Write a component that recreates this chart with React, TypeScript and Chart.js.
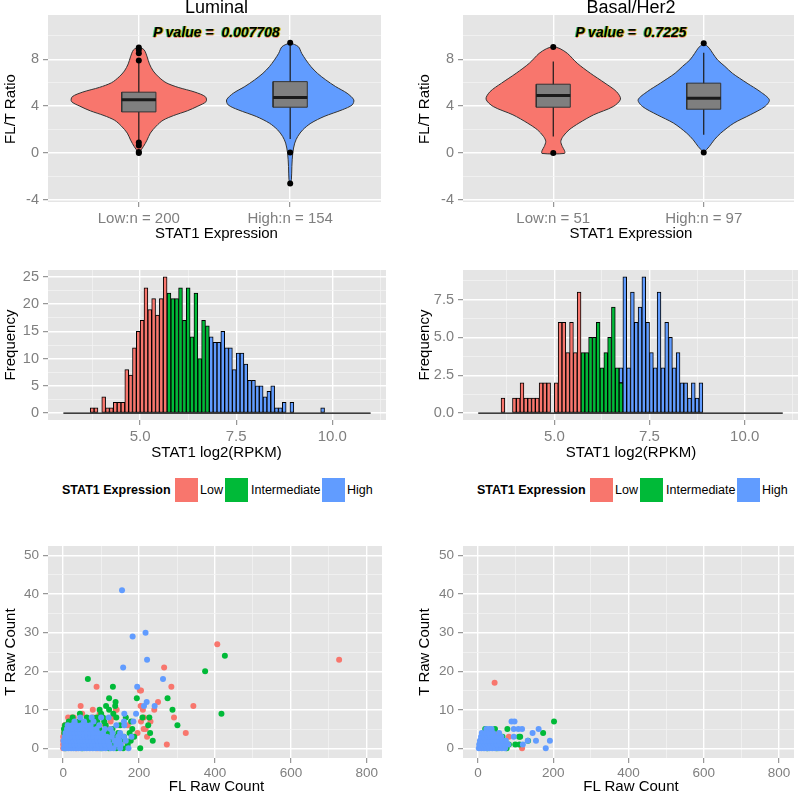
import React, { useEffect, useRef } from 'react';
import { Chart, registerables } from 'chart.js';

Chart.register(...registerables);

const FONT = "'Liberation Sans', Arial, Helvetica, sans-serif";
Chart.defaults.font.family = FONT;

const RED = '#F8766D';
const GREEN = '#00BA38';
const BLUE = '#619CFF';
const PANEL_BG = '#E5E5E5';
const TICK_GREY = '#7F7F7F';

// ---------------- Violin panels ----------------
const violinCats = [1, 2];
const lumCatLabels = ['Low:n = 200', 'High:n = 154'];
const basCatLabels = ['Low:n = 51', 'High:n = 97'];
const violinYMajor = [-4, 0, 4, 8];
const violinYMinor = [-2, 2, 6, 10];
const violinYLabels = ['-4', '0', '4', '8'];

// density profiles: value (y) and half width (x units)
const lumLowY = [9.05, 8.8, 8.2, 7.6, 7.0, 6.5, 6.0, 5.6, 5.2, 4.8, 4.4, 4.0, 3.6, 3.2, 2.8, 2.3, 1.7, 1.1, 0.55, 0.0];
const lumLowW = [0.0, 0.035, 0.055, 0.07, 0.095, 0.13, 0.18, 0.26, 0.37, 0.44, 0.445, 0.39, 0.32, 0.23, 0.16, 0.115, 0.076, 0.054, 0.03, 0.0];
const lumHighY = [9.41, 9.07, 8.5, 7.94, 7.37, 6.8, 6.24, 5.67, 5.1, 4.54, 4.11, 3.69, 3.12, 2.55, 1.98, 1.42, 0.85, 0.0, -1.14, -2.27, -2.6];
const lumHighW = [0.0, 0.054, 0.076, 0.104, 0.137, 0.18, 0.235, 0.3, 0.376, 0.42, 0.41, 0.344, 0.224, 0.137, 0.083, 0.05, 0.03, 0.017, 0.011, 0.008, 0.0];
const basLowY = [9.1, 8.9, 8.5, 7.66, 6.81, 5.96, 5.24, 4.6, 3.97, 3.26, 2.55, 1.98, 1.42, 1.0, 0.56, 0.2, -0.03];
const basLowW = [0.0, 0.045, 0.094, 0.159, 0.246, 0.344, 0.42, 0.447, 0.399, 0.268, 0.17, 0.105, 0.065, 0.05, 0.06, 0.075, 0.075];
const basHighY = [9.41, 8.94, 8.5, 7.94, 7.4, 6.81, 5.96, 5.24, 4.54, 3.97, 3.26, 2.55, 1.7, 1.13, 0.56, 0.05];
const basHighW = [0.0, 0.037, 0.06, 0.092, 0.14, 0.19, 0.288, 0.375, 0.436, 0.407, 0.309, 0.2, 0.113, 0.07, 0.037, 0.0];

// box stats: [whisker low, Q1, median, Q3, whisker high]
const lumLowBox = [1.1, 3.51, 4.54, 5.19, 7.75];
const lumHighBox = [1.2, 3.91, 4.73, 6.09, 9.2];
const basLowBox = [1.41, 3.91, 4.9, 5.87, 7.8];
const basHighBox = [1.56, 3.74, 4.68, 5.96, 8.56];
const lumLowOut = [9.0, 8.8, 8.5, 7.9, 0.9, 0.65, 0.1, 0.0];
const lumHighOut = [9.4, 0.05, -2.6];
const basLowOut = [9.05, 0.0];
const basHighOut = [9.36, 0.05];

// ---------------- Histograms ----------------
const histXMajor = [5, 7.5, 10];
const histXMinor = [3.75, 6.25, 8.75, 11.25];
const histXLabels = ['5.0', '7.5', '10.0'];
const lumHistYMajor = [0, 5, 10, 15, 20, 25];
const lumHistYMinor = [2.5, 7.5, 12.5, 17.5, 22.5];
const lumHistYLabels = ['0', '5', '10', '15', '20', '25'];
const basHistYMajor = [0, 2.5, 5, 7.5];
const basHistYMinor = [1.25, 3.75, 6.25, 8.75];
const basHistYLabels = ['0.0', '2.5', '5.0', '7.5'];
const histRange = [3.0, 11.0];
const binWidth = 0.1;

const lumBins = [3.7, 3.8, 3.9, 4.0, 4.1, 4.2, 4.3, 4.4, 4.5, 4.6,
  4.7, 4.8, 4.9, 5.0, 5.1, 5.2, 5.3, 5.4, 5.5, 5.6,
  5.7, 5.8, 5.9, 6.0, 6.1, 6.2, 6.3, 6.4, 6.5, 6.6,
  6.7, 6.8, 6.9, 7.0, 7.1, 7.2, 7.3, 7.4, 7.5, 7.6,
  7.7, 7.8, 7.9, 8.0, 8.1, 8.2, 8.3, 8.4, 8.5, 8.6,
  8.7, 8.8, 8.9, 9.0, 9.1, 9.2, 9.3, 9.4, 9.5, 9.6,
  9.7];
const lumLow = [1, 1, 0, 3, 1, 1, 2, 2, 2, 8,
  7, 12, 15, 17, 23, 19, 21, 18, 21, 25,
  0, 0, 0, 0, 0, 0, 0, 0, 0, 0,
  0, 0, 0, 0, 0, 0, 0, 0, 0, 0,
  0, 0, 0, 0, 0, 0, 0, 0, 0, 0,
  0, 0, 0, 0, 0, 0, 0, 0, 0, 0,
  0];
const lumInt = [0, 0, 0, 0, 0, 0, 0, 0, 0, 0,
  0, 0, 0, 0, 0, 0, 0, 0, 0, 0,
  22, 21, 21, 23, 17, 23, 14, 22, 10, 17,
  16, 0, 0, 0, 0, 0, 0, 0, 0, 0,
  0, 0, 0, 0, 0, 0, 0, 0, 0, 0,
  0, 0, 0, 0, 0, 0, 0, 0, 0, 0,
  0];
const lumHigh = [0, 0, 0, 0, 0, 0, 0, 0, 0, 0,
  0, 0, 0, 0, 0, 0, 0, 0, 0, 0,
  0, 0, 0, 0, 0, 0, 0, 0, 0, 0,
  0, 14, 13, 13, 15, 12, 12, 8, 11, 11,
  9, 6, 6, 5, 5, 3, 4, 5, 1, 1,
  2, 0, 2, 0, 0, 0, 0, 0, 0, 0,
  1];

const basBins = [3.6, 3.7, 3.8, 3.9, 4.0, 4.1, 4.2, 4.3, 4.4, 4.5,
  4.6, 4.7, 4.8, 4.9, 5.0, 5.1, 5.2, 5.3, 5.4, 5.5,
  5.6, 5.7, 5.8, 5.9, 6.0, 6.1, 6.2, 6.3, 6.4, 6.5,
  6.6, 6.7, 6.8, 6.9, 7.0, 7.1, 7.2, 7.3, 7.4, 7.5,
  7.6, 7.7, 7.8, 7.9, 8.0, 8.1, 8.2, 8.3, 8.4, 8.5,
  8.6, 8.7, 8.8];
const basLow = [1, 0, 0, 1, 1, 2, 1, 1, 1, 1,
  2, 2, 2, 0, 2, 6, 6, 4, 6, 4,
  8, 0, 0, 0, 0, 0, 0, 0, 0, 0,
  0, 0, 0, 0, 0, 0, 0, 0, 0, 0,
  0, 0, 0, 0, 0, 0, 0, 0, 0, 0,
  0, 0, 0];
const basInt = [0, 0, 0, 0, 0, 0, 0, 0, 0, 0,
  0, 0, 0, 0, 0, 0, 0, 0, 0, 0,
  0, 4, 4, 5, 5, 6, 3, 4, 5, 7,
  3, 2, 0, 0, 0, 0, 0, 0, 0, 0,
  0, 0, 0, 0, 0, 0, 0, 0, 0, 0,
  0, 0, 0];
const basHigh = [0, 0, 0, 0, 0, 0, 0, 0, 0, 0,
  0, 0, 0, 0, 0, 0, 0, 0, 0, 0,
  0, 0, 0, 0, 0, 0, 0, 0, 0, 0,
  0, 1, 9, 3, 8, 6, 7, 9, 6, 4,
  3, 8, 3, 6, 5, 3, 4, 2, 2, 1,
  2, 1, 2];

// ---------------- Scatter panels ----------------
const scatXMajor = [0, 200, 400, 600, 800];
const scatXMinor = [100, 300, 500, 700];
const scatXLabels = ['0', '200', '400', '600', '800'];
const scatYMajor = [0, 10, 20, 30, 40, 50];
const scatYMinor = [5, 15, 25, 35, 45];
const scatYLabels = ['0', '10', '20', '30', '40', '50'];

const lumScatLow = [
  [0, 0], [35, 0], [90, 0], [0, 1], [25, 1], [80, 1], [273, 1], [0, 2], [15, 2], [60, 2], [100, 2], [160, 2],
  [0, 3], [20, 3], [45, 3], [70, 3], [221, 3], [2, 4], [30, 4], [95, 4], [196, 4], [323, 4], [40, 5], [85, 5],
  [212, 5], [217, 5], [55, 6], [75, 6], [170, 6], [4, 6], [20, 7], [65, 7], [125, 7], [205, 7], [13, 8], [22, 8],
  [28, 8], [79, 8], [130, 8], [213, 8], [292, 8], [50, 9], [96, 9], [78, 10], [141, 10], [139, 10], [210, 10],
  [240, 10], [46, 11], [204, 11], [343, 11], [250, 12], [205, 15], [202, 15], [88, 16], [285, 16], [266, 21],
  [406, 27], [727, 23], [110, 6], [150, 3], [120, 5], [230, 7]
];
const lumScatInt = [
  [5, 0], [50, 0], [100, 0], [120, 0], [140, 0], [158, 0], [203, 0], [12, 1], [65, 1], [115, 1], [128, 1], [143, 1],
  [170, 1], [24, 2], [90, 2], [125, 2], [150, 2], [178, 2], [236, 2], [8, 3], [55, 3], [110, 3], [135, 3], [160, 3],
  [187, 3], [229, 4], [3, 4], [40, 4], [85, 4], [118, 4], [145, 4], [175, 4], [2, 5], [20, 5], [50, 5], [70, 5],
  [95, 5], [130, 5], [182, 5], [5, 6], [30, 6], [58, 6], [84, 6], [112, 6], [150, 6], [224, 6], [301, 6], [15, 7],
  [42, 7], [68, 7], [90, 7], [108, 7], [179, 7], [25, 8], [62, 8], [88, 8], [105, 8], [140, 8], [165, 8], [209, 8],
  [227, 8], [44, 9], [100, 9], [132, 9], [417, 9], [96, 10], [121, 10], [288, 10], [113, 11], [137, 11], [138, 12],
  [121, 13], [194, 13], [275, 13], [131, 16], [65, 18], [374, 20], [426, 24]
];
const lumScatHigh = [
  [2, 0], [8, 0], [14, 0], [21, 0], [27, 0], [33, 0], [40, 0], [47, 0], [55, 0], [62, 0], [70, 0], [78, 0], [86, 0],
  [95, 0], [104, 0], [112, 0], [125, 0], [133, 0], [150, 0], [172, 0],
  [3, 1], [9, 1], [16, 1], [22, 1], [30, 1], [37, 1], [45, 1], [52, 1], [60, 1], [68, 1], [76, 1], [85, 1], [93, 1],
  [101, 1], [110, 1], [122, 1], [140, 1], [152, 1],
  [1, 2], [7, 2], [13, 2], [20, 2], [28, 2], [35, 2], [43, 2], [50, 2], [58, 2], [66, 2], [74, 2], [83, 2], [91, 2],
  [99, 2], [108, 2], [118, 2], [135, 2], [148, 2], [165, 2],
  [4, 3], [11, 3], [18, 3], [25, 3], [32, 3], [40, 3], [48, 3], [56, 3], [64, 3], [72, 3], [80, 3], [90, 3], [100, 3],
  [115, 3], [128, 3], [145, 3], [160, 3], [180, 3],
  [6, 4], [14, 4], [22, 4], [30, 4], [38, 4], [46, 4], [55, 4], [63, 4], [71, 4], [80, 4], [92, 4], [105, 4], [130, 4], [150, 4],
  [10, 5], [18, 5], [27, 5], [36, 5], [45, 5], [54, 5], [63, 5], [75, 5], [88, 5], [110, 5], [125, 5],
  [12, 6], [24, 6], [35, 6], [48, 6], [60, 6], [72, 6], [95, 6], [140, 6], [161, 6],
  [30, 7], [55, 7], [80, 7], [160, 7], [185, 7],
  [45, 8], [75, 8], [100, 8], [120, 8],
  [161, 9], [192, 9], [213, 11], [241, 11], [220, 12], [195, 16], [263, 18], [158, 21], [221, 23], [183, 29],
  [217, 30], [155, 41]
];

const basScatLow = [[44, 17], [117, 0], [82, 3], [52, 3], [45, 4], [28, 2], [40, 1], [60, 2]];
const basScatInt = [
  [50, 0], [76, 0], [82, 1], [99, 1], [110, 1], [58, 2], [133, 2], [109, 3], [65, 3], [173, 4], [18, 4], [19, 5],
  [78, 5], [202, 7], [35, 2], [25, 0], [45, 5], [112, 3]
];
const basScatHigh = [
  [2, 0], [9, 0], [16, 0], [23, 0], [30, 0], [38, 0], [46, 0], [55, 0], [63, 0], [72, 0], [180, 0],
  [3, 1], [11, 1], [18, 1], [26, 1], [34, 1], [42, 1], [50, 1], [60, 1], [70, 1], [80, 1], [119, 1],
  [5, 2], [13, 2], [21, 2], [29, 2], [37, 2], [46, 2], [56, 2], [66, 2], [74, 2], [132, 2], [154, 2], [191, 2],
  [8, 3], [16, 3], [25, 3], [33, 3], [42, 3], [52, 3], [62, 3], [95, 3],
  [10, 4], [20, 4], [30, 4], [40, 4], [56, 4], [145, 4],
  [22, 5], [30, 5], [36, 5], [95, 5], [107, 5], [117, 5], [161, 5],
  [89, 7], [97, 7]
];

// ---------------- helpers ----------------
const panelBg = {
  id: 'panelBg',
  beforeDraw(chart: any) {
    const { ctx, chartArea: a } = chart;
    ctx.save();
    ctx.fillStyle = PANEL_BG;
    ctx.fillRect(a.left, a.top, a.right - a.left, a.bottom - a.top);
    ctx.restore();
  },
};

function mkScale(pos: string, min: number, max: number, majors: number[], minors: number[], labels: string[], fontSize: number, fixed: number, pad: number, stacked = false) {
  return {
    type: 'linear',
    position: pos,
    min,
    max,
    bounds: 'data',
    offset: false,
    stacked,
    afterBuildTicks: (s: any) => {
      const t = majors.map((v) => ({ value: v, minor: false })).concat(minors.map((v) => ({ value: v, minor: true })));
      t.sort((a, b) => a.value - b.value);
      s.ticks = t;
    },
    afterFit: (s: any) => {
      if (pos === 'left') s.width = fixed;
      else s.height = fixed;
    },
    ticks: {
      autoSkip: false,
      maxRotation: 0,
      minRotation: 0,
      color: TICK_GREY,
      font: { size: fontSize, family: FONT },
      padding: pad,
      callback: (v: any, i: number, ticks: any[]) => {
        const t = ticks[i];
        if (!t || t.minor) return '';
        const k = majors.indexOf(t.value);
        return k >= 0 ? labels[k] : '';
      },
    },
    grid: {
      offset: false,
      drawTicks: true,
      tickLength: 5,
      color: (c: any) => (c.tick && c.tick.minor ? '#F2F2F2' : '#FFFFFF'),
      lineWidth: (c: any) => (c.tick && c.tick.minor ? 0.8 : 1.4),
      tickColor: (c: any) => (c.tick && c.tick.minor ? 'rgba(0,0,0,0)' : TICK_GREY),
      tickWidth: 1,
    },
    border: { display: false },
  };
}

function baseOptions(padTop: number) {
  return {
    responsive: false,
    animation: false,
    devicePixelRatio: 1,
    events: [],
    layout: { padding: { top: padTop, left: 0, right: 0, bottom: 0 } },
    plugins: { legend: { display: false }, tooltip: { enabled: false } },
  };
}

function violinSets(c: number, ys: number[], ws: number[], box: number[], outs: number[], color: string) {
  const outline: any[] = [];
  for (let i = 0; i < ys.length; i++) outline.push({ x: c + ws[i], y: ys[i] });
  for (let i = ys.length - 1; i >= 0; i--) outline.push({ x: c - ws[i], y: ys[i] });
  outline.push({ x: outline[0].x, y: outline[0].y });
  const bw = 0.113;
  const [wlo, q1, med, q3, whi] = box;
  return [
    { type: 'line', data: outline, borderColor: '#333333', borderWidth: 1, backgroundColor: color, fill: 'shape', tension: 0.3, pointRadius: 0, order: 5 },
    { type: 'line', data: [{ x: c, y: wlo }, { x: c, y: whi }], borderColor: '#1a1a1a', borderWidth: 1.2, pointRadius: 0, fill: false, tension: 0, order: 4 },
    {
      type: 'line',
      data: [{ x: c - bw, y: q1 }, { x: c + bw, y: q1 }, { x: c + bw, y: q3 }, { x: c - bw, y: q3 }, { x: c - bw, y: q1 }],
      borderColor: '#333333', borderWidth: 1, backgroundColor: '#7F7F7F', fill: 'shape', tension: 0, pointRadius: 0, order: 3,
    },
    { type: 'line', data: [{ x: c - bw, y: med }, { x: c + bw, y: med }], borderColor: '#1a1a1a', borderWidth: 3, pointRadius: 0, fill: false, tension: 0, order: 2 },
    { type: 'scatter', data: outs.map((v) => ({ x: c, y: v })), backgroundColor: '#000000', borderWidth: 0, pointRadius: 3, order: 1 },
  ];
}

function violinConfig(cats: string[], low: any, high: any) {
  return {
    type: 'scatter',
    data: {
      datasets: [
        ...violinSets(violinCats[0], low.y, low.w, low.box, low.out, RED),
        ...violinSets(violinCats[1], high.y, high.w, high.box, high.out, BLUE),
      ],
    },
    options: {
      ...baseOptions(15),
      scales: {
        x: mkScale('bottom', 0.4, 2.6, violinCats, [], cats, 15, 30, 3),
        y: mkScale('left', -4.17, 11.77, violinYMajor, violinYMinor, violinYLabels, 14.5, 48, 4),
      },
    },
    plugins: [panelBg],
  };
}

function histSet(bins: number[], counts: number[], color: string) {
  const data: any[] = [];
  for (let i = 0; i < bins.length; i++) {
    if (counts[i] > 0) data.push({ x: bins[i] + binWidth / 2, y: counts[i] });
  }
  return {
    type: 'bar', data, backgroundColor: color, borderColor: '#000000', borderWidth: 1, borderSkipped: false,
    barPercentage: 1, categoryPercentage: 1, stack: 'h', order: 2,
  };
}

function histConfig(bins: number[], low: number[], mid: number[], high: number[], yMin: number, yMax: number, yMaj: number[], yMin2: number[], yLab: string[]) {
  return {
    type: 'bar',
    data: {
      datasets: [
        histSet(bins, low, RED),
        histSet(bins, mid, GREEN),
        histSet(bins, high, BLUE),
        {
          type: 'line', data: [{ x: histRange[0], y: 0 }, { x: histRange[1], y: 0 }], borderColor: '#000000', borderWidth: 1.3,
          pointRadius: 0, fill: false, stack: 'base', order: 1,
        },
      ],
    },
    options: {
      ...baseOptions(20),
      scales: {
        x: mkScale('bottom', 2.6, 11.4, histXMajor, histXMinor, histXLabels, 15, 30, 3, true),
        y: mkScale('left', yMin, yMax, yMaj, yMin2, yLab, 14.5, 48, 4, true),
      },
    },
    plugins: [panelBg],
  };
}

function scatterConfig(low: number[][], mid: number[][], high: number[][]) {
  const mk = (pts: number[][], color: string, order: number) => ({
    type: 'scatter', data: pts.map((p) => ({ x: p[0], y: p[1] })), backgroundColor: color, borderWidth: 0, pointRadius: 3, order,
  });
  return {
    type: 'scatter',
    data: { datasets: [mk(low, RED, 3), mk(mid, GREEN, 2), mk(high, BLUE, 1)] },
    options: {
      ...baseOptions(20),
      scales: {
        x: mkScale('bottom', -40, 840, scatXMajor, scatXMinor, scatXLabels, 13.5, 30, 2),
        y: mkScale('left', -2.5, 52.5, scatYMajor, scatYMinor, scatYLabels, 13.5, 48, 4),
      },
    },
    plugins: [panelBg],
  };
}

function ChartBox({ left, top, width, height, make }: any) {
  const ref = useRef<HTMLCanvasElement>(null);
  useEffect(() => {
    const chart = new Chart(ref.current as any, make());
    return () => chart.destroy();
  }, []);
  return (
    <canvas ref={ref} width={width} height={height}
      style={{ position: 'absolute', left, top, width, height, display: 'block' }} />
  );
}

function Txt({ x, y, size, children, bold, italic, rotate, color, left, shadow }: any) {
  const transform = left ? 'translate(0,-50%)' : `translate(-50%,-50%)${rotate ? ' rotate(-90deg)' : ''}`;
  return (
    <div style={{
      position: 'absolute', left: x, top: y, transform, whiteSpace: 'pre', fontSize: size, lineHeight: `${size}px`,
      fontWeight: bold ? 'bold' : 'normal', fontStyle: italic ? 'italic' : 'normal', color: color || '#000',
      fontFamily: FONT, textShadow: shadow || 'none',
    }}>{children}</div>
  );
}

const legendTitle = 'STAT1 Expression';
const legendLabels = ['Low', 'Intermediate', 'High'];
const legendColors = [RED, GREEN, BLUE];

function Legend({ dx }: any) {
  const swatchX = [175, 225, 322];
  const labelX = [200, 251, 347];
  return (
    <>
      <Txt x={62 + dx} y={490} size={12.5} bold left>{legendTitle}</Txt>
      {legendLabels.map((l, i) => (
        <React.Fragment key={l}>
          <div style={{ position: 'absolute', left: swatchX[i] + dx, top: 478, width: 23, height: 24, background: legendColors[i] }} />
          <Txt x={labelX[i] + dx} y={490} size={12.5} left>{l}</Txt>
        </React.Fragment>
      ))}
    </>
  );
}

const pShadow = '1px 0 0 rgba(210,190,0,0.9), -1px 0 0 rgba(0,186,56,0.7), 0 1px 0 rgba(248,118,109,0.8)';

export default function App() {
  return (
    <div style={{ position: 'absolute', left: 0, top: 0, width: 800, height: 791, background: '#ffffff', overflow: 'hidden' }}>
      <ChartBox left={0} top={0} width={385} height={232}
        make={() => violinConfig(lumCatLabels,
          { y: lumLowY, w: lumLowW, box: lumLowBox, out: lumLowOut },
          { y: lumHighY, w: lumHighW, box: lumHighBox, out: lumHighOut })} />
      <ChartBox left={415} top={0} width={383} height={232}
        make={() => violinConfig(basCatLabels,
          { y: basLowY, w: basLowW, box: basLowBox, out: basLowOut },
          { y: basHighY, w: basHighW, box: basHighBox, out: basHighOut })} />
      <ChartBox left={0} top={250} width={386} height={200}
        make={() => histConfig(lumBins, lumLow, lumInt, lumHigh, -1.25, 26.25, lumHistYMajor, lumHistYMinor, lumHistYLabels)} />
      <ChartBox left={415} top={250} width={383} height={200}
        make={() => histConfig(basBins, basLow, basInt, basHigh, -0.45, 9.45, basHistYMajor, basHistYMinor, basHistYLabels)} />
      <ChartBox left={0} top={526} width={386} height={262}
        make={() => scatterConfig(lumScatLow, lumScatInt, lumScatHigh)} />
      <ChartBox left={415} top={526} width={383} height={262}
        make={() => scatterConfig(basScatLow, basScatInt, basScatHigh)} />

      <Txt x={216.5} y={6.9} size={18}>Luminal</Txt>
      <Txt x={631} y={6.9} size={18}>Basal/Her2</Txt>
      <Txt x={216.5} y={31.7} size={14} bold italic shadow={pShadow}>{'P value =  0.007708'}</Txt>
      <Txt x={631} y={31.7} size={14} bold italic shadow={pShadow}>{'P value =  0.7225'}</Txt>

      <Txt x={9} y={108.5} size={15} rotate>FL/T Ratio</Txt>
      <Txt x={423} y={108.5} size={15} rotate>FL/T Ratio</Txt>
      <Txt x={216.5} y={232} size={15}>STAT1 Expression</Txt>
      <Txt x={631} y={232} size={15}>STAT1 Expression</Txt>

      <Txt x={9} y={345} size={15} rotate>Frequency</Txt>
      <Txt x={423} y={345} size={15} rotate>Frequency</Txt>
      <Txt x={216.5} y={450.5} size={15}>STAT1 log2(RPKM)</Txt>
      <Txt x={631} y={450.5} size={15}>STAT1 log2(RPKM)</Txt>

      <Legend dx={0} />
      <Legend dx={415} />

      <Txt x={9} y={652} size={15} rotate>T Raw Count</Txt>
      <Txt x={423} y={652} size={15} rotate>T Raw Count</Txt>
      <Txt x={216.5} y={784.5} size={15}>FL Raw Count</Txt>
      <Txt x={631} y={784.5} size={15}>FL Raw Count</Txt>
    </div>
  );
}
